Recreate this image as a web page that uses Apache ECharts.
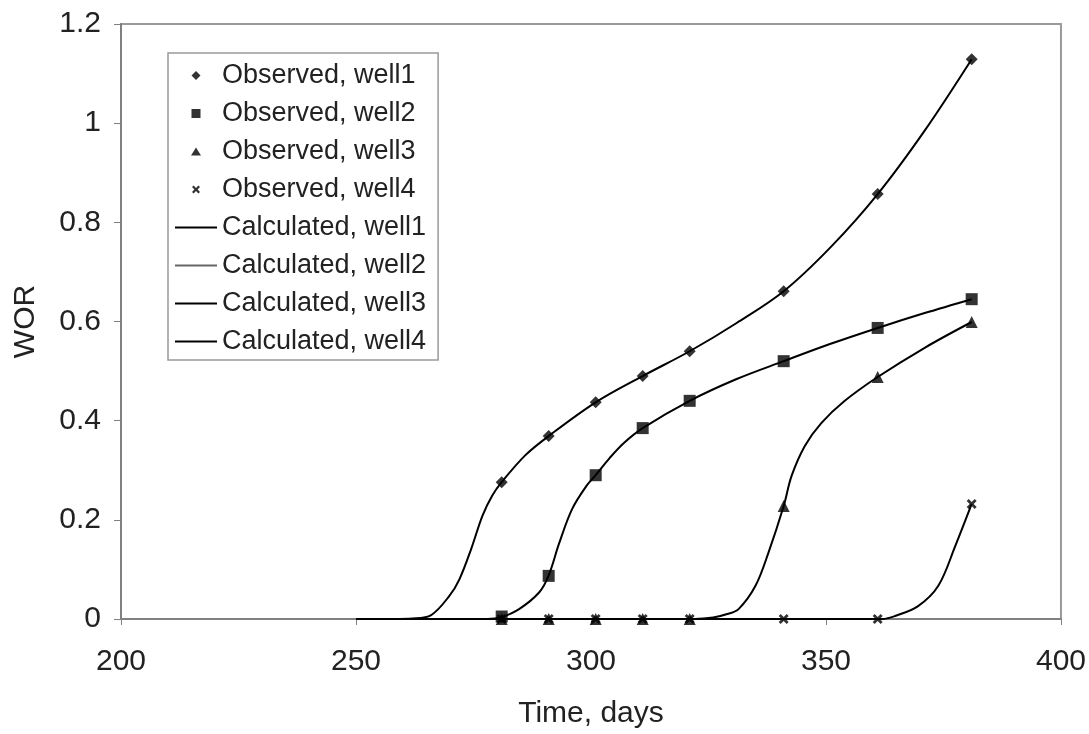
<!DOCTYPE html>
<html>
<head>
<meta charset="utf-8">
<script src="https://cdn.jsdelivr.net/npm/echarts@6/dist/echarts.min.js"></script>
<style>
  html, body { margin: 0; padding: 0; background: #fff; }
  #chart { width: 1089px; height: 734px; }
</style>
</head>
<body>
<div id="chart"></div>
<script>
// observed points: [day, WOR]
const obsWell1 = [[281, 0.276], [291, 0.369], [301, 0.437], [311, 0.49], [321, 0.54], [341, 0.661], [361, 0.857], [381, 1.129]];
const obsWell2 = [[281, 0.005], [291, 0.087], [301, 0.29], [311, 0.385], [321, 0.44], [341, 0.52], [361, 0.587], [381, 0.645]];
const obsWell3 = [[281, 0], [291, 0], [301, 0], [311, 0], [321, 0], [341, 0.228], [361, 0.488], [381, 0.599]];
const obsWell4 = [[281, 0], [291, 0], [301, 0], [311, 0], [321, 0], [341, 0], [361, 0], [381, 0.232]];

// calculated curves
const calcWell1 = [[250, 0], [258, 0], [262, 0.001], [266, 0.008], [269.9, 0.047], [272, 0.08], [274.5, 0.141], [276.9, 0.208], [279, 0.249], [281, 0.276], [286, 0.33], [291, 0.369], [301, 0.437], [311, 0.49], [321, 0.54], [331, 0.597], [341, 0.661], [351, 0.75], [361, 0.857], [371, 0.985], [381, 1.129]];
const calcWell2 = [[250, 0], [278, 0], [281, 0.004], [284.7, 0.02], [289, 0.054], [291, 0.088], [293.2, 0.152], [296, 0.222], [299, 0.268], [301, 0.29], [304, 0.325], [307, 0.355], [311, 0.385], [321, 0.44], [331, 0.484], [341, 0.52], [351, 0.555], [361, 0.587], [371, 0.617], [381, 0.645]];
const calcWell3 = [[250, 0], [322, 0], [326, 0.003], [329, 0.01], [331.4, 0.02], [335, 0.067], [337.8, 0.135], [341, 0.228], [342.7, 0.289], [345.5, 0.349], [349, 0.395], [354, 0.44], [361, 0.488], [371, 0.547], [381, 0.599]];
const calcWell4 = [[250, 0], [362, 0], [364.7, 0.006], [369.6, 0.026], [373.9, 0.067], [377.5, 0.147], [381, 0.232]];

const xTicks = { min: 200, max: 400, interval: 50 };
const yTicks = { min: 0, max: 1.2, interval: 0.2 };

const font = "Liberation Sans, Arial, Helvetica, sans-serif";

// marker shapes for the plot
const crossPath = "path://M0,2 L2,0 L5,3 L8,0 L10,2 L7,5 L10,8 L8,10 L5,7 L2,10 L0,8 L3,5 Z";

// legend icons drawn in a 42x12 box (corner points keep the box size)
const box = "M0,0 L0,0 M42,12 L42,12 ";
const legendIcons = {
  diamond: "path://" + box + "M21,1.5 L25.5,6 L21,10.5 L16.5,6 Z",
  square: "path://" + box + "M16.5,1.5 L25.5,1.5 L25.5,10.5 L16.5,10.5 Z",
  triangle: "path://" + box + "M21,2 L26,10 L16,10 Z",
  cross: "path://" + box + "M17,3.6 L18.6,2 L21,4.4 L23.4,2 L25,3.6 L22.6,6 L25,8.4 L23.4,10 L21,7.6 L18.6,10 L17,8.4 L19.4,6 Z",
  line: "path://" + box + "M0,5 L42,5 L42,7 L0,7 Z",
};

let chart = echarts.init(document.getElementById("chart"), null, { renderer: "canvas" });

function observed(name, data, symbol, size) {
  return {
    name: name,
    type: "scatter",
    data: data,
    symbol: symbol,
    symbolSize: size,
    itemStyle: { color: "#000" },
    z: 5,
  };
}

function calculated(name, data) {
  return {
    name: name,
    type: "line",
    data: data,
    smooth: 0.35,
    symbol: "none",
    lineStyle: { color: "#000", width: 2 },
    itemStyle: { color: "#000" },
    z: 3,
  };
}

let option = {
  animation: false,
  backgroundColor: "#fff",
  textStyle: { fontFamily: font },
  grid: {
    left: 121,
    right: 26,
    top: 24,
    bottom: 114,
    show: true,
    borderColor: "#9a9a9a",
    borderWidth: 2,
  },
  legend: {
    orient: "vertical",
    left: 168,
    top: 53,
    itemWidth: 42,
    itemHeight: 12,
    itemGap: 11,
    padding: [9, 12, 5, 7],
    borderColor: "#9a9a9a",
    borderWidth: 1.5,
    backgroundColor: "#fff",
    selectedMode: false,
    textStyle: { fontFamily: font, fontSize: 27, color: "#222", lineHeight: 27 },
    data: [
      { name: "Observed, well1", icon: legendIcons.diamond },
      { name: "Observed, well2", icon: legendIcons.square },
      { name: "Observed, well3", icon: legendIcons.triangle },
      { name: "Observed, well4", icon: legendIcons.cross },
      { name: "Calculated, well1", icon: legendIcons.line },
      { name: "Calculated, well2", icon: legendIcons.line, itemStyle: { color: "#666" } },
      { name: "Calculated, well3", icon: legendIcons.line },
      { name: "Calculated, well4", icon: legendIcons.line },
    ],
  },
  xAxis: {
    type: "value",
    min: xTicks.min,
    max: xTicks.max,
    interval: xTicks.interval,
    name: "Time, days",
    nameLocation: "middle",
    nameGap: 80,
    nameTextStyle: { fontFamily: font, fontSize: 30, color: "#222" },
    axisLine: { show: true, lineStyle: { color: "#808080", width: 2 } },
    axisTick: { show: true, length: 6, lineStyle: { color: "#808080" } },
    axisLabel: { fontFamily: font, fontSize: 30, color: "#222", margin: 28 },
    splitLine: { show: false },
  },
  yAxis: {
    type: "value",
    min: yTicks.min,
    max: yTicks.max,
    interval: yTicks.interval,
    name: "WOR",
    nameLocation: "middle",
    nameGap: 80,
    nameRotate: 90,
    nameTextStyle: { fontFamily: font, fontSize: 30, color: "#222" },
    axisLine: { show: true, lineStyle: { color: "#808080", width: 2 } },
    axisTick: { show: true, length: 7, lineStyle: { color: "#808080" } },
    axisLabel: { fontFamily: font, fontSize: 30, color: "#222", margin: 20 },
    splitLine: { show: false },
  },
  series: [
    observed("Observed, well1", obsWell1, "diamond", 12),
    observed("Observed, well2", obsWell2, "rect", 12),
    observed("Observed, well3", obsWell3, "triangle", 12),
    observed("Observed, well4", obsWell4, crossPath, 10),
    calculated("Calculated, well1", calcWell1),
    calculated("Calculated, well2", calcWell2),
    calculated("Calculated, well3", calcWell3),
    calculated("Calculated, well4", calcWell4),
  ],
};

chart.setOption(option);
</script>
</body>
</html>
